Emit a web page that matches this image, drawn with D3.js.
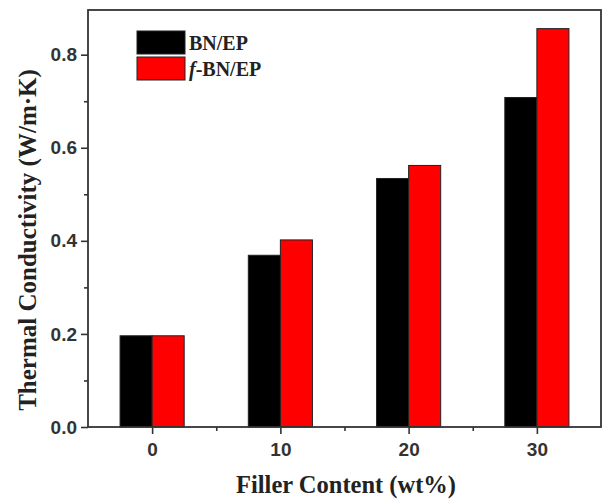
<!DOCTYPE html>
<html>
<head>
<meta charset="utf-8">
<script src="https://cdn.jsdelivr.net/npm/d3@7"></script>
<style>
  body { margin: 0; background: #fff; }
  .tick text { font-family: "Liberation Sans", Arial, sans-serif; font-weight: bold; font-size: 19px; fill: #333; }
  .title { font-family: "Liberation Serif", "Times New Roman", serif; font-weight: bold; fill: #222; }
</style>
</head>
<body>
<div id="chart"></div>
<script>
/* DATA */
const fillerContent = [0, 10, 20, 30];
const bnEP = [0.196, 0.369, 0.534, 0.708];
const fbnEP = [0.196, 0.402, 0.562, 0.856];
const seriesNames = ["BN/EP", "f-BN/EP"];
const seriesColors = ["#000000", "#ff0000"];
const yTicks = [0, 0.2, 0.4, 0.6, 0.8];

/* CONSTANTS */
const width = 605, height = 502,
  margin = { top: 10, right: 4, bottom: 75, left: 88 };

const svg = d3.select("#chart").append("svg")
  .attr("width", width)
  .attr("height", height);

// SCALES
const xScale = d3.scaleLinear()
  .domain([-5, 35])
  .range([margin.left, width - margin.right]);

const yScale = d3.scaleLinear()
  .domain([0, 0.896])
  .range([height - margin.bottom, margin.top]);

const barW = 2.5; // in x units

// BARS
const series = [bnEP, fbnEP];
series.forEach((vals, s) => {
  svg.append("g").selectAll("rect")
    .data(fillerContent.map((c, i) => ({ c, v: vals[i] })))
    .join("rect")
    .attr("x", d => xScale(d.c + (s === 0 ? -barW : 0)))
    .attr("width", xScale(barW) - xScale(0))
    .attr("y", d => yScale(d.v))
    .attr("height", d => yScale(0) - yScale(d.v))
    .attr("fill", seriesColors[s])
    .attr("stroke", "#222")
    .attr("stroke-width", 1);
});

// AXES
const xAxis = d3.axisBottom(xScale).tickValues(fillerContent).tickFormat(d3.format("d")).tickSize(7).tickPadding(9);
const xMinor = d3.axisBottom(xScale).tickValues([5, 15, 25]).tickSize(4).tickFormat("");
const yAxis = d3.axisLeft(yScale).tickValues(yTicks).tickFormat(d3.format(".1f")).tickSize(7).tickPadding(4);
const yMinor = d3.axisLeft(yScale).tickValues([0.1, 0.3, 0.5, 0.7]).tickSize(4).tickFormat("");

svg.append("g").attr("transform", `translate(0, ${height - margin.bottom})`).call(xAxis);
svg.append("g").attr("transform", `translate(0, ${height - margin.bottom})`).call(xMinor);
svg.append("g").attr("transform", `translate(${margin.left}, 0)`).call(yAxis);
svg.append("g").attr("transform", `translate(${margin.left}, 0)`).call(yMinor);

svg.selectAll(".domain").remove();
svg.selectAll(".tick line").attr("stroke", "#333").attr("stroke-width", 1.6);

// frame
svg.append("rect")
  .attr("x", margin.left)
  .attr("y", margin.top)
  .attr("width", width - margin.left - margin.right)
  .attr("height", height - margin.top - margin.bottom)
  .attr("fill", "none")
  .attr("stroke", "#333")
  .attr("stroke-width", 1.8);

// TITLES
svg.append("text")
  .attr("class", "title")
  .attr("x", 346)
  .attr("y", 493)
  .attr("text-anchor", "middle")
  .attr("font-size", 24.5)
  .text("Filler Content (wt%)");

svg.append("text")
  .attr("class", "title")
  .attr("transform", "translate(36, 240) rotate(-90)")
  .attr("text-anchor", "middle")
  .attr("font-size", 25)
  .text("Thermal Conductivity (W/m·K)");

// LEGEND
const legend = svg.append("g").attr("transform", "translate(137, 31)");
seriesNames.forEach((name, i) => {
  legend.append("rect")
    .attr("x", 0)
    .attr("y", i * 26)
    .attr("width", 48)
    .attr("height", 23)
    .attr("fill", seriesColors[i])
    .attr("stroke", "#222")
    .attr("stroke-width", 1);
  const t = legend.append("text")
    .attr("class", "title")
    .attr("x", 52)
    .attr("y", i * 26 + 19)
    .attr("font-size", 20);
  if (name.startsWith("f-")) {
    t.append("tspan").attr("font-style", "italic").text("f");
    t.append("tspan").text(name.slice(1));
  } else {
    t.text(name);
  }
});
</script>
</body>
</html>
